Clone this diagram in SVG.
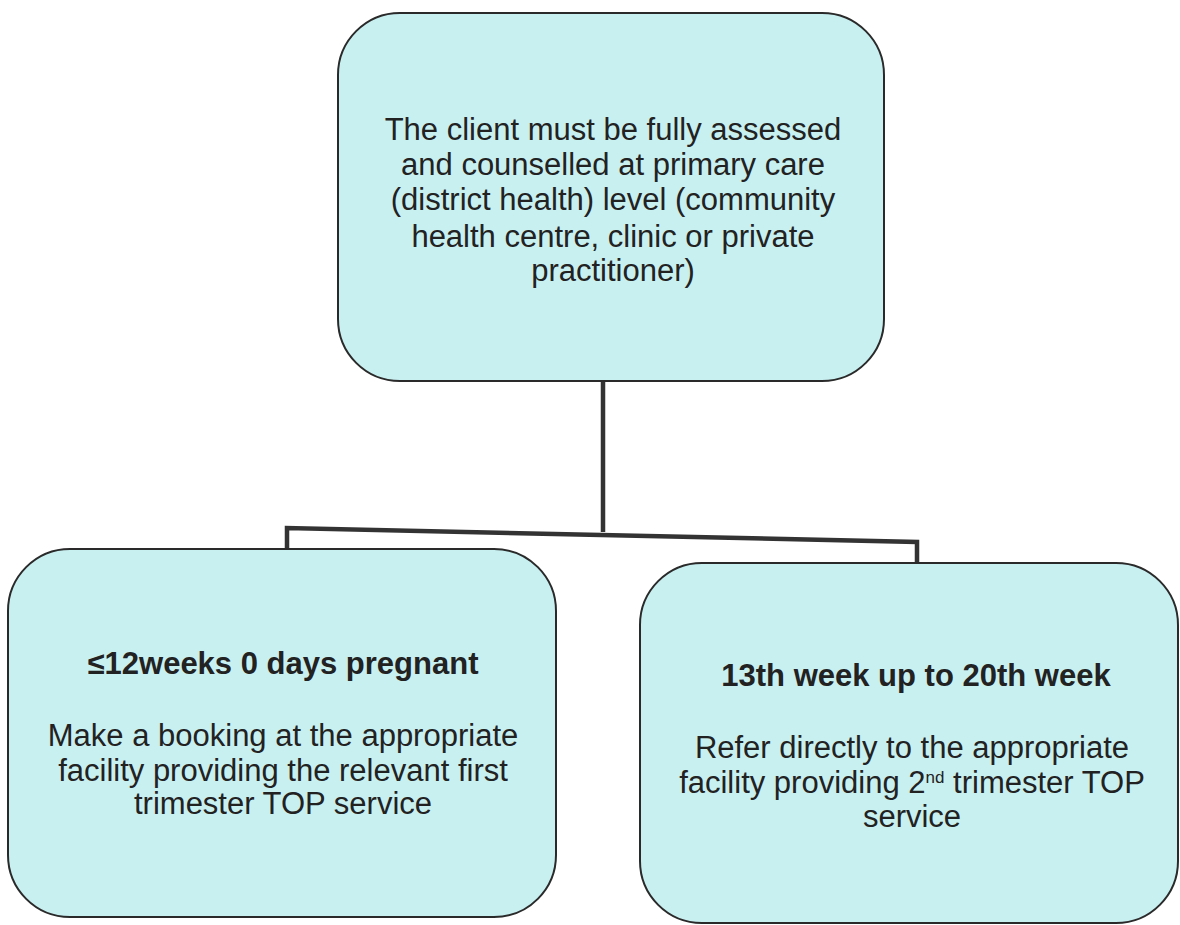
<svg xmlns="http://www.w3.org/2000/svg" width="1180" height="925" viewBox="0 0 1180 925">
<style>
.box{fill:#c9f0f1;stroke:#2a2a2a;stroke-width:2}
.t{font-family:"Liberation Sans",Arial,sans-serif;font-size:31px;fill:#222;text-anchor:middle}
.b{font-weight:bold;font-size:31px}
.conn{fill:none;stroke:#333;stroke-width:4.5}
</style>
<rect width="1180" height="925" fill="#fff"/>
<g id="connectors">
<path class="conn" d="M603,382 L603,532"/>
<path class="conn" d="M287,552 L287,528 L917,542 L917,565"/>
</g>
<g id="top">
<rect class="box" x="338" y="13" width="546" height="368" rx="62" ry="62"/>
<text class="t" x="613" y="140">The client must be fully assessed</text>
<text class="t" x="613" y="175">and counselled at primary care</text>
<text class="t" x="613" y="210">(district health) level (community</text>
<text class="t" x="613" y="247">health centre, clinic or private</text>
<text class="t" x="613" y="281">practitioner)</text>
</g>
<g id="left">
<rect class="box" x="8" y="549" width="548" height="368" rx="62" ry="62"/>
<text class="t b" x="283" y="674">≤12weeks 0 days pregnant</text>
<text class="t" x="283" y="746">Make a booking at the appropriate</text>
<text class="t" x="283" y="781">facility providing the relevant first</text>
<text class="t" x="283" y="814">trimester TOP service</text>
</g>
<g id="right">
<rect class="box" x="640" y="563" width="538" height="360" rx="62" ry="62"/>
<text class="t b" x="916" y="686">13th week up to 20th week</text>
<text class="t" x="912" y="758">Refer directly to the appropriate</text>
<text class="t" x="912" y="793">facility providing 2<tspan font-size="17" dy="-10">nd</tspan><tspan dy="10"> trimester TOP</tspan></text>
<text class="t" x="912" y="827">service</text>
</g>
</svg>
